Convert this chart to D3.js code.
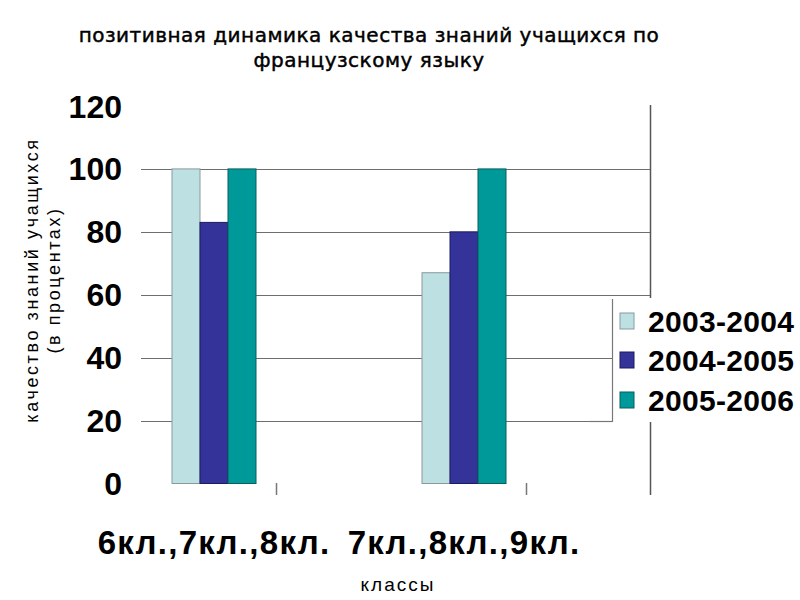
<!DOCTYPE html>
<html><head><meta charset="utf-8">
<script src="https://cdn.jsdelivr.net/npm/d3@7"></script>
<style>body{margin:0;background:#fff}</style>
</head><body>
<script>
const categories = ["6кл.,7кл.,8кл.", "7кл.,8кл.,9кл."];
const seriesNames = ["2003-2004", "2004-2005", "2005-2006"];
const values2003 = [100, 67];
const values2004 = [83, 80];
const values2005 = [100, 100];
const yTicks = [0, 20, 40, 60, 80, 100, 120];
const titleLines = ["позитивная динамика качества знаний учащихся по", "французскому языку"];
const yTitleLines = ["качество знаний учащихся", "(в процентах)"];
const xTitle = "классы";

const colors = ["#BDE0E3", "#333399", "#009999"];
const strokes = ["#8a9a9c", "#1c1c5e", "#0b5e5e"];
const seriesValues = [values2003, values2004, values2005];

const W = 800, H = 600;
const svg = d3.select("body").append("svg").attr("width", W).attr("height", H);

const y = d3.scaleLinear().domain([0, 120]).range([483.5, 106]);
const x = d3.scaleBand().domain(categories).range([89, 589]);
const barW = 28;
const xs = d3.scaleBand().domain(seriesNames).range([0, barW * 3]);

// gridlines
svg.append("g").selectAll("line").data(yTicks.filter(t => t > 0 && t < 120)).join("line")
  .attr("x1", 141).attr("x2", 650)
  .attr("y1", d => Math.round(y(d)) + 0.5).attr("y2", d => Math.round(y(d)) + 0.5)
  .attr("stroke", "#6e6e6e").attr("stroke-width", 1.2);

// right frame line
svg.append("line").attr("x1", 650.5).attr("x2", 650.5).attr("y1", 105).attr("y2", 495)
  .attr("stroke", "#555").attr("stroke-width", 1.5);

// category tick marks
svg.append("g").selectAll("line").data(categories).join("line")
  .attr("x1", d => x(d) + x.bandwidth() * 0.75).attr("x2", d => x(d) + x.bandwidth() * 0.75)
  .attr("y1", 483).attr("y2", 495)
  .attr("stroke", "#777").attr("stroke-width", 1.5);

// bars
seriesNames.forEach((s, si) => {
  svg.append("g").selectAll("rect").data(categories).join("rect")
    .attr("x", (c) => x(c) + x.bandwidth() / 2 - barW * 1.5 + xs(s))
    .attr("width", xs.bandwidth())
    .attr("y", (c, i) => y(seriesValues[si][i]))
    .attr("height", (c, i) => y(0) - y(seriesValues[si][i]))
    .attr("fill", colors[si]).attr("stroke", strokes[si]).attr("stroke-width", 1);
});

// y tick labels
svg.append("g").selectAll("text").data(yTicks).join("text")
  .attr("x", 122).attr("y", d => y(d)).attr("dy", "0.36em")
  .attr("text-anchor", "end")
  .attr("font-family", "Liberation Sans, Arial, sans-serif")
  .attr("font-weight", "bold").attr("font-size", 32)
  .text(d => d);

// category labels
svg.append("g").selectAll("text").data(categories).join("text")
  .attr("x", d => x(d) + x.bandwidth() / 2).attr("y", 554)
  .attr("text-anchor", "middle")
  .attr("font-family", "Liberation Sans, Arial, sans-serif")
  .attr("font-weight", "bold").attr("font-size", 33)
  .attr("letter-spacing", 1.3)
  .text(d => d);

// title
svg.append("g").selectAll("text").data(titleLines).join("text")
  .attr("x", 369).attr("y", (d, i) => 42 + i * 25)
  .attr("text-anchor", "middle")
  .attr("font-family", "DejaVu Sans, Verdana, sans-serif")
  .attr("font-size", 20).attr("letter-spacing", 0.5)
  .attr("stroke", "#000").attr("stroke-width", 0.45)
  .text(d => d);

// y axis title
svg.append("g").attr("transform", "translate(0,280) rotate(-90)")
  .selectAll("text").data(yTitleLines).join("text")
  .attr("x", 0).attr("y", (d, i) => 38 + i * 22)
  .attr("text-anchor", "middle")
  .attr("font-family", "Liberation Sans, Arial, sans-serif")
  .attr("font-size", 18).attr("letter-spacing", 2.6)
  .text(d => d);

// x axis title
svg.append("text").attr("x", 398).attr("y", 591).attr("text-anchor", "middle")
  .attr("font-family", "Liberation Sans, Arial, sans-serif").attr("font-size", 19)
  .attr("letter-spacing", 2)
  .text(xTitle);

// legend
const lg = svg.append("g");
lg.append("rect").attr("x", 612).attr("y", 298).attr("width", 188).attr("height", 124).attr("fill", "#fff");
lg.append("line").attr("x1", 612.5).attr("x2", 612.5).attr("y1", 299).attr("y2", 422)
  .attr("stroke", "#777").attr("stroke-width", 1.2);
lg.append("line").attr("x1", 590).attr("x2", 612).attr("y1", 421.5).attr("y2", 421.5)
  .attr("stroke", "#777").attr("stroke-width", 1.2);
const legY = [321, 360, 400];
const items = lg.selectAll("g.item").data(seriesNames).join("g").attr("class", "item")
  .attr("transform", (d, i) => `translate(620,${legY[i]})`);
items.append("rect").attr("x", 0).attr("y", -8).attr("width", 14).attr("height", 16)
  .attr("fill", (d, i) => colors[i]).attr("stroke", (d, i) => strokes[i]).attr("stroke-width", 1);
items.append("text").attr("x", 28).attr("y", 0).attr("dy", "0.36em")
  .attr("font-family", "Liberation Sans, Arial, sans-serif")
  .attr("font-weight", "bold").attr("font-size", 30)
  .attr("letter-spacing", 0.3)
  .text(d => d);
</script>
</body></html>
